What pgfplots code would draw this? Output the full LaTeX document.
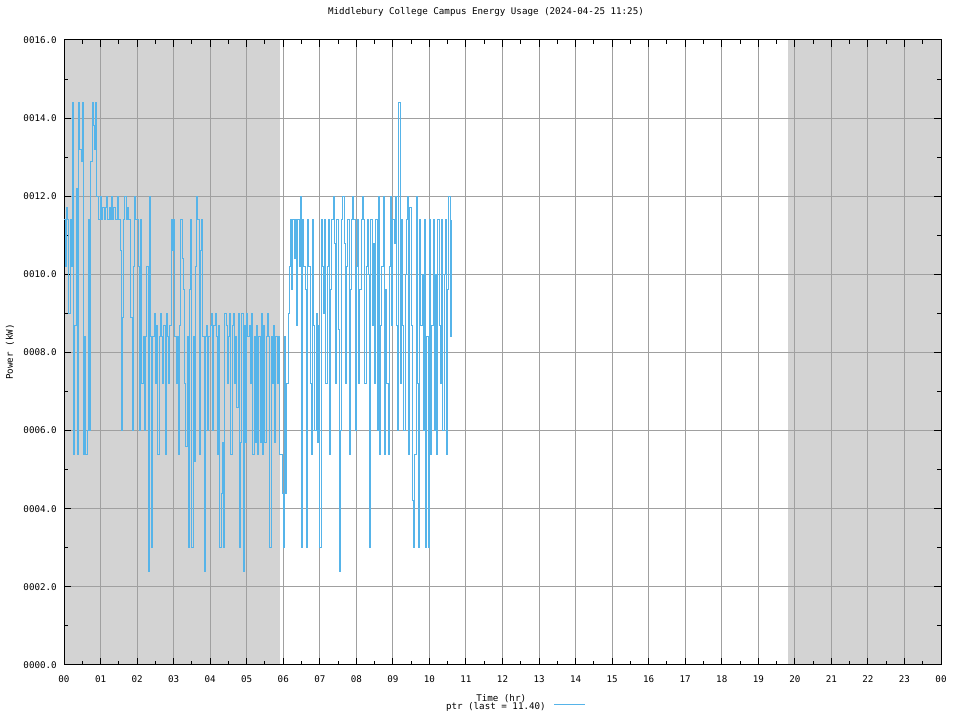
\documentclass[border=0pt]{standalone}
\usepackage{fontspec}
\setmainfont{DejaVu Sans Mono}
\usepackage{pgfplots}
\usepackage{pgfplotstable}
\pgfplotsset{compat=1.18}
\definecolor{series}{RGB}{86,180,233}
\definecolor{shade}{RGB}{211,211,211}
\definecolor{gridc}{RGB}{160,160,160}

\pgfplotstableread{
x y
0 11.4
2 10.2
4 11.7
6 11.4
8 9.0
10 11.4
12 10.2
14 14.4
16 5.4
18 8.7
20 12.2
22 5.4
24 14.4
26 13.2
28 12.9
30 14.4
32 5.4
34 8.4
36 5.4
38 6.0
40 11.4
42 6.0
44 12.9
46 14.4
48 13.8
50 13.2
52 14.4
54 12.0
56 11.4
58 11.4
60 12.0
62 11.4
64 11.7
66 11.4
68 11.7
70 12.0
72 11.4
74 11.7
76 11.4
78 12.0
80 11.4
82 11.7
84 11.4
86 11.4
88 12.0
90 11.4
92 10.6
94 6.0
96 8.9
98 11.4
100 12.0
102 11.4
104 11.7
106 11.4
108 11.4
110 8.9
112 6.0
114 10.2
116 12.0
118 11.4
120 11.4
122 10.2
124 6.0
126 11.4
128 7.2
130 8.4
132 6.0
134 8.4
136 10.2
138 2.4
140 12.0
142 8.4
144 3.0
146 8.4
148 9.0
150 7.2
152 8.7
154 5.4
156 8.4
158 9.0
160 8.4
162 7.2
164 8.7
166 5.4
168 9.0
170 8.4
172 7.2
174 8.7
176 11.4
178 10.6
180 11.4
182 8.4
184 7.2
186 8.4
188 5.4
190 8.7
192 11.4
194 10.4
196 9.6
198 7.2
200 5.6
202 8.4
204 3.0
206 9.6
208 11.4
210 3.0
212 8.4
214 5.2
216 10.2
218 12.0
220 11.4
222 5.4
224 10.6
226 11.4
228 8.4
230 2.4
232 8.4
234 8.7
236 6.0
238 8.4
240 8.7
242 9.0
244 6.0
246 8.7
248 9.0
250 8.4
252 5.4
254 8.7
256 3.0
258 4.4
260 5.7
262 3.0
264 9.0
266 8.7
268 7.2
270 8.4
272 9.0
274 5.4
276 8.7
278 9.0
280 7.2
282 8.4
284 6.6
286 9.0
288 3.0
290 5.7
292 9.0
294 2.4
296 8.7
298 5.7
300 9.0
302 8.4
304 8.7
306 7.2
308 9.0
310 5.4
312 8.4
314 5.7
316 8.7
318 5.4
320 8.4
322 5.7
324 9.0
326 5.4
328 8.7
330 5.7
332 8.4
334 9.0
336 8.4
338 3.0
340 8.4
342 7.2
344 8.7
346 5.7
348 8.4
350 7.2
352 8.4
354 5.4
356 5.4
358 4.4
360 3.0
362 8.4
364 4.4
366 7.2
368 9.0
370 10.2
372 11.4
374 9.6
376 11.4
378 10.4
380 11.4
382 8.7
384 11.4
386 10.2
388 12.0
390 3.0
392 11.4
394 10.2
396 9.6
398 3.0
400 11.4
402 10.2
404 7.2
406 5.4
408 11.4
410 8.7
412 6.0
414 9.0
416 5.7
418 8.7
420 3.0
422 11.4
424 10.2
426 9.0
428 11.4
430 7.2
432 10.2
434 11.4
436 5.4
438 9.6
440 11.4
442 12.0
444 10.8
446 7.2
448 11.4
450 8.6
452 2.4
454 6.0
456 11.4
458 12.0
460 10.8
462 7.2
464 10.2
466 11.4
468 5.4
470 9.6
472 11.4
474 12.0
476 11.4
478 6.0
480 10.2
482 11.4
484 7.2
486 9.6
488 11.4
490 12.0
492 11.4
494 7.2
496 10.2
498 11.4
500 10.0
502 3.0
504 11.4
506 8.7
508 10.8
510 7.2
512 11.4
514 6.0
516 12.0
518 5.4
520 8.7
522 10.2
524 12.0
526 5.4
528 9.6
530 7.2
532 5.4
534 10.2
536 12.0
538 8.7
540 11.4
542 10.8
544 12.0
546 8.7
548 6.0
550 14.4
552 7.2
554 11.4
556 8.7
558 6.0
560 10.0
562 11.4
564 12.0
566 5.4
568 11.7
570 8.7
572 4.2
574 3.0
576 5.4
578 12.0
580 7.2
582 3.0
584 11.4
586 8.7
588 10.0
590 6.0
592 11.4
594 3.0
596 8.4
598 3.0
600 11.4
602 5.4
604 8.7
606 11.4
608 6.0
610 10.0
612 5.4
614 11.4
616 8.7
618 7.2
620 11.4
622 6.0
624 10.0
626 11.4
628 5.4
630 9.6
632 12.0
634 8.4
636 11.4
}\ptrdata

\begin{document}
\begin{tikzpicture}
\begin{axis}[
  set layers,
  at={(0,0)}, anchor=south west,
  scale only axis,
  width=657.75pt, height=468.75pt,
  xmin=0, xmax=1440, ymin=0, ymax=16,
  enlargelimits=false,
  font=\fontsize{6.9pt}{8pt}\selectfont,
  xtick={0,60,...,1440},
  xticklabels={00,01,02,03,04,05,06,07,08,09,10,11,12,13,14,15,16,17,18,19,20,21,22,23,00},
  minor xtick={30,90,...,1410},
  ytick={0,2,...,16},
  yticklabels={0000.0,0002.0,0004.0,0006.0,0008.0,0010.0,0012.0,0014.0,0016.0},
  minor ytick={1,3,...,15},
  tick align=inside,
  major tick length=5.25pt,
  minor tick length=3pt,
  tick style={black, line width=0.75pt},
  axis line style={black, line width=0.75pt},
  grid=major,
  major grid style={gridc, line width=0.75pt},
  xticklabel style={anchor=base, yshift=-13.5pt, inner sep=0pt},
  yticklabel style={anchor=east, xshift=-5.25pt, inner sep=0pt},
  title={Middlebury College Campus Energy Usage (2024-04-25 11:25)},
  title style={at={(axis description cs:0.4812,1.0272)}, anchor=base, inner sep=0pt},
  xlabel={Time (hr)},
  xlabel style={at={(axis description cs:0.4985,-0.0535)}, anchor=center, inner sep=0pt},
  ylabel={Power (kW)},
  ylabel style={at={(axis description cs:-0.0616,0.5008)}, anchor=center, inner sep=0pt},
  legend plot pos=right,
  legend style={at={(axis description cs:0.5137,-0.0672)}, anchor=center, draw=none, fill=none, inner sep=0pt, font=\fontsize{6.9pt}{8pt}\selectfont},
  legend image code/.code={\path (0pt,2pt); \draw[#1] (4pt,2pt) -- (27.25pt,2pt);},
]
\addplot[fill=shade, draw=none, on layer=axis background, forget plot] coordinates {(0,16) (355,16)} \closedcycle;
\addplot[fill=shade, draw=none, on layer=axis background, forget plot] coordinates {(1189,16) (1440,16)} \closedcycle;
\addplot[const plot, series, line width=0.75pt] table[x=x, y=y] {\ptrdata};
\addlegendentry{ptr (last = 11.40)}
\end{axis}
\pgfresetboundingbox
\useasboundingbox (-48pt,-41.25pt) rectangle (672pt,498.75pt);
\end{tikzpicture}
\end{document}
